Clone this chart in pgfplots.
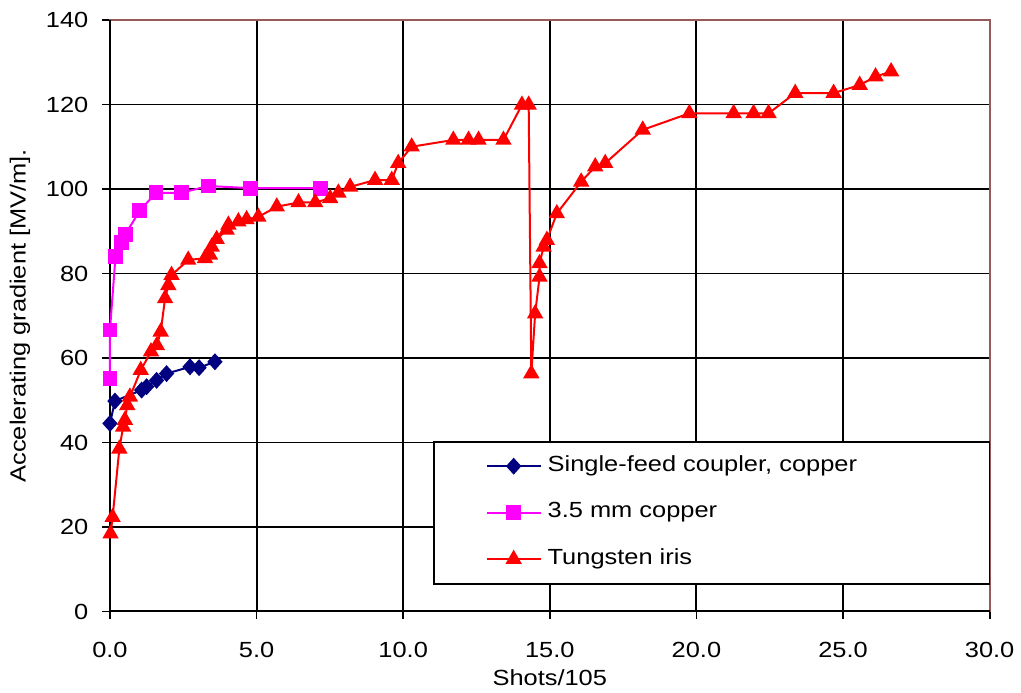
\documentclass[border=0pt]{standalone}
\usepackage{pgfplots}
\pgfplotsset{compat=1.18}
\usepackage{fontspec}
\setmainfont[FakeStretch=1.16]{Liberation Sans}
\definecolor{sfblue}{RGB}{0,0,128}
\definecolor{mag}{RGB}{255,0,255}
\definecolor{framec}{RGB}{150,90,90}
\begin{document}
\begin{tikzpicture}
\begin{axis}[
 scale only axis, width=440bp, height=295.85bp,
 xmin=0, xmax=30, ymin=0, ymax=140,
 xtick={0,5,...,30}, ytick={0,20,...,140},
 xtick pos=left, ytick pos=left,
 tick align=outside, major tick length=4bp,
 tick style={black, line width=0.9bp},
 grid=major, major grid style={black, line width=0.95bp},
 axis line style={framec, line width=0.9bp},
 clip=false,
 font=\fontsize{11}{13}\selectfont,
 /pgf/number format/assume math mode=true,
 xticklabel={\pgfmathprintnumber[fixed,fixed zerofill,precision=1]{\tick}},
 xticklabel style={yshift=-8bp},
 yticklabel style={xshift=-3.3bp},
 xlabel={Shots/105},
 ylabel={Accelerating gradient [MV/m].},
 xlabel style={at={(axis description cs:0.5,-0.1124)}, anchor=center},
 ylabel style={at={(axis description cs:-0.1023,0.5)}, anchor=center},
 legend cell align=left,
 legend image code/.code={\path (-26bp,0) (0bp,0);
   \draw[mark repeat=2,mark phase=2] plot coordinates {(0bp,0bp) (13.5bp,0bp) (27bp,0bp)};},
 legend style={at={(axis description cs:0.367,0.2885)}, anchor=north west,
   draw=black, line width=0.9bp, fill=white, inner xsep=0pt, inner ysep=6.75bp,
   row sep=12.25bp, column sep=3bp,
   nodes={inner sep=0pt, text height=8bp, text depth=3bp}},
]
\draw[black, line width=1bp] (rel axis cs:0,1) -- (rel axis cs:0,0) -- (rel axis cs:1,0);
\addplot[sfblue, line width=1bp, mark=diamond*, mark size=3.5bp,
  mark options={solid, xscale=1.2, fill=sfblue}] coordinates {
(0.0,44.5) (0.17,49.8) (1.08,52.4) (1.25,53.2) (1.59,54.7) (1.93,56.3) (2.73,57.9) (3.04,57.7) (3.58,59.1)
};
\addlegendentry{\makebox[221bp][l]{Single-feed coupler, copper}}
\addplot[mag, line width=1bp, mark=square*, mark size=3.2bp,
  mark options={solid, fill=mag}] coordinates {
(0.0,55.1) (0.0,66.6) (0.19,84.1) (0.40,87.4) (0.53,89.3) (1.02,94.9) (1.57,99.1) (2.44,99.1) (3.35,100.7) (4.78,100.2) (7.17,100.2)
};
\addlegendentry{3.5 mm copper}
\addplot[red, line width=1bp, mark=triangle*, mark size=3.75bp,
  mark options={solid, fill=red}] coordinates {
(0.02,18.4) (0.09,22.3) (0.32,38.5) (0.45,43.7) (0.51,45.3) (0.59,48.8) (0.68,50.8) (1.05,57.1) (1.40,61.5) (1.60,63.0) (1.73,66.2) (1.88,74.1) (1.99,77.2) (2.10,79.6) (2.67,83.2) (3.24,83.6) (3.41,84.4) (3.47,86.3) (3.64,88.1) (3.98,90.3) (4.04,91.5) (4.38,92.3) (4.66,92.8) (5.06,93.4) (5.69,95.8) (6.43,96.8) (7.00,96.8) (7.51,97.8) (7.79,99.1) (8.19,100.5) (9.04,102.1) (9.61,102.1) (9.83,106.1) (10.29,110.0) (11.71,111.6) (12.23,111.6) (12.57,111.6) (13.42,111.6) (14.05,119.9) (14.28,119.9) (14.37,56.3) (14.50,70.5) (14.65,79.2) (14.65,82.4) (14.79,86.3) (14.90,87.9) (15.24,94.2) (16.07,101.7) (16.55,105.3) (16.89,106.1) (18.17,114.0) (19.76,117.9) (21.27,117.9) (21.95,117.9) (22.46,117.9) (23.37,122.7) (24.68,122.7) (25.57,124.6) (26.11,126.6) (26.64,127.8)
};
\addlegendentry{Tungsten iris}
\end{axis}
\path ([shift={(-55bp,-39.15bp)}]current axis.south west) rectangle ([shift={(15.5bp,10bp)}]current axis.north east);
\end{tikzpicture}
\end{document}
